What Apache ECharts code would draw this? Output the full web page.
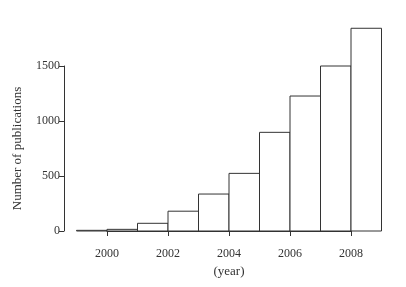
<!DOCTYPE html>
<html>
<head>
<meta charset="utf-8">
<script src="https://cdn.jsdelivr.net/npm/echarts@6/dist/echarts.min.js"></script>
<style>
  html, body { margin: 0; padding: 0; background: #fff; }
  #chart { width: 406px; height: 287px; }
</style>
</head>
<body>
<div id="chart"></div>
<script>
'use strict';

// histogram bins: [start year, end year)
var binStarts = [1999, 2000, 2001, 2002, 2003, 2004, 2005, 2006, 2007, 2008];
var counts = [6, 15, 70, 180, 336, 524, 897, 1227, 1500, 1843];
var yearTicks = [2000, 2002, 2004, 2006, 2008];
var countTicks = [0, 500, 1000, 1500];

var font = 'Liberation Serif';
var ink = '#333';

var rows = binStarts.map(function (s, i) {
  return [s, s + 1, counts[i]];
});

var myChart = echarts.init(document.getElementById('chart'));

var option = {
  animation: false,
  textStyle: { fontFamily: font },
  grid: {
    left: 107,
    right: 55,
    top: 66,
    bottom: 56
  },
  xAxis: {
    type: 'value',
    min: yearTicks[0],
    max: yearTicks[yearTicks.length - 1],
    interval: 2,
    offset: 8,
    splitLine: { show: false },
    axisLine: { show: true, lineStyle: { color: ink, width: 1 } },
    axisTick: { show: true, length: 5, lineStyle: { color: ink } },
    axisLabel: {
      color: ink,
      fontSize: 12,
      fontFamily: font,
      margin: 9,
      formatter: function (v) { return String(v); }
    },
    name: '(year)',
    nameLocation: 'middle',
    nameGap: 26,
    nameTextStyle: { color: ink, fontSize: 13, fontFamily: font }
  },
  yAxis: {
    type: 'value',
    min: countTicks[0],
    max: countTicks[countTicks.length - 1],
    interval: 500,
    offset: 43,
    splitLine: { show: false },
    axisLine: { show: true, lineStyle: { color: ink, width: 1 } },
    axisTick: { show: true, length: 5, lineStyle: { color: ink } },
    axisLabel: {
      color: ink,
      fontSize: 12,
      fontFamily: font,
      margin: 4,
      formatter: function (v) { return String(v); }
    },
    name: 'Number of publications',
    nameLocation: 'middle',
    nameGap: 40,
    nameTextStyle: { color: ink, fontSize: 13, fontFamily: font }
  },
  series: [{
    type: 'custom',
    clip: false,
    data: rows,
    renderItem: function (params, api) {
      var p0 = api.coord([api.value(0), 0]);
      var p1 = api.coord([api.value(1), api.value(2)]);
      return {
        type: 'rect',
        shape: {
          x: p0[0],
          y: p1[1],
          width: p1[0] - p0[0],
          height: p0[1] - p1[1]
        },
        style: {
          fill: '#fff',
          stroke: ink,
          lineWidth: 1
        }
      };
    }
  }]
};

myChart.setOption(option);
</script>
</body>
</html>
